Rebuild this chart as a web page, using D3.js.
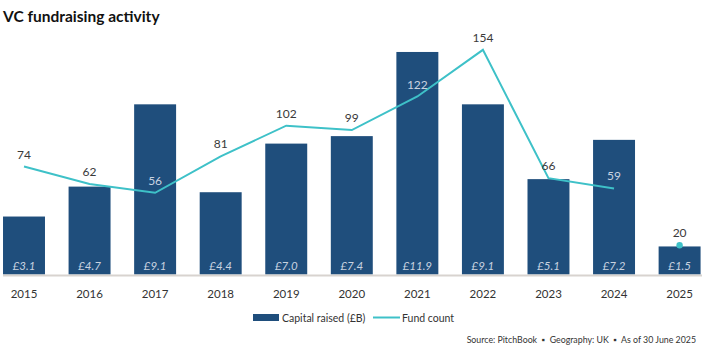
<!DOCTYPE html>
<html>
<head>
  <meta charset="utf-8">
  <title>VC fundraising activity</title>
  <style>
    body {
      margin: 0;
      background: #fff;
    }
    svg {
      font-family: Lato, "Open Sans", sans-serif;
    }
    .title {
      font-size: 15.5px;
      font-weight: 700;
      fill: #111;
    }
    .bar {
      fill: #1f4e7c;
    }
    .bar-label {
      font-size: 11.5px;
      font-style: italic;
      fill: #c9d3e0;
      text-anchor: middle;
    }
    .count-label {
      font-size: 12px;
      text-anchor: middle;
    }
    .year {
      font-size: 11.5px;
      fill: #333;
      text-anchor: middle;
    }
    .legend text {
      font-size: 10.5px;
      fill: #333;
    }
    .source {
      font-size: 8.8px;
      fill: #333;
      text-anchor: end;
      white-space: pre;
    }
  </style>
</head>
<body>
  <script src="https://d3js.org/d3.v7.min.js"></script>
  <script>
    const years = ["2015", "2016", "2017", "2018", "2019", "2020", "2021", "2022", "2023", "2024", "2025"];
    const capitalRaised = [3.1, 4.7, 9.1, 4.4, 7.0, 7.4, 11.9, 9.1, 5.1, 7.2, 1.5];
    const fundCount = [74, 62, 56, 81, 102, 99, 122, 154, 66, 59, 20];

    const width = 705;
    const height = 348;
    const baseline = 274.5;

    const svg = d3.select("body")
      .append("svg")
      .attr("width", width)
      .attr("height", height);

    svg.append("text")
      .attr("class", "title")
      .attr("x", 3)
      .attr("y", 22)
      .text("VC fundraising activity");

    const step = 65.56;
    const x = d3.scaleBand()
      .domain(years)
      .range([24 - step / 2, 24 - step / 2 + step * years.length])
      .paddingInner(0.36)
      .paddingOuter(0.18);

    // capital (£B) and fund count share the same baseline
    const yCap = d3.scaleLinear()
      .domain([0, 12])
      .range([baseline, baseline - 12 * 18.7]);

    const yCount = d3.scaleLinear()
      .domain([0, 160])
      .range([baseline, baseline - 160 * 1.459]);

    const cx = d => x(d) + x.bandwidth() / 2;

    svg.selectAll(".bar")
      .data(years)
      .enter()
      .append("rect")
      .attr("class", "bar")
      .attr("x", d => x(d))
      .attr("y", (d, i) => yCap(capitalRaised[i]))
      .attr("width", x.bandwidth())
      .attr("height", (d, i) => yCap(0) - yCap(capitalRaised[i]));

    svg.selectAll(".bar-label")
      .data(years)
      .enter()
      .append("text")
      .attr("class", "bar-label")
      .attr("x", cx)
      .attr("y", baseline - 5)
      .text((d, i) => "£" + capitalRaised[i].toFixed(1));

    // axis baseline
    svg.append("line")
      .attr("x1", 3)
      .attr("x2", 702)
      .attr("y1", baseline + 1)
      .attr("y2", baseline + 1)
      .attr("stroke", "#d8d3cf")
      .attr("stroke-width", 2);

    svg.selectAll(".year")
      .data(years)
      .enter()
      .append("text")
      .attr("class", "year")
      .attr("x", cx)
      .attr("y", 298)
      .text(d => d);

    // fund count line runs to 2024; 2025 is a part-year dot
    const lineYears = years.slice(0, 10);

    const line = d3.line()
      .x(d => cx(d))
      .y(d => yCount(fundCount[years.indexOf(d)]));

    svg.append("path")
      .datum(lineYears)
      .attr("fill", "none")
      .attr("stroke", "#3ec1c8")
      .attr("stroke-width", 2)
      .attr("d", line);

    svg.append("circle")
      .attr("cx", cx("2025"))
      .attr("cy", yCount(fundCount[10]))
      .attr("r", 3.2)
      .attr("fill", "#3ec1c8");

    svg.selectAll(".count-label")
      .data(years)
      .enter()
      .append("text")
      .attr("class", "count-label")
      .attr("x", cx)
      .attr("y", (d, i) => yCount(fundCount[i]) - 8)
      .attr("fill", (d, i) => {
        const labelY = yCount(fundCount[i]) - 13;
        return labelY > yCap(capitalRaised[i]) ? "#c9d3e0" : "#3a3a3a";
      })
      .text((d, i) => fundCount[i]);

    // legend
    const legend = svg.append("g").attr("class", "legend");
    legend.append("rect")
      .attr("x", 253)
      .attr("y", 314)
      .attr("width", 26)
      .attr("height", 7)
      .attr("fill", "#1f4e7c");
    legend.append("text")
      .attr("x", 282)
      .attr("y", 321.5)
      .text("Capital raised (£B)");
    legend.append("line")
      .attr("x1", 373)
      .attr("x2", 400)
      .attr("y1", 317.5)
      .attr("y2", 317.5)
      .attr("stroke", "#3ec1c8")
      .attr("stroke-width", 2);
    legend.append("text")
      .attr("x", 402)
      .attr("y", 321.5)
      .text("Fund count");

    svg.append("text")
      .attr("class", "source")
      .attr("x", 696)
      .attr("y", 343)
      .text("Source: PitchBook  ▪  Geography: UK  ▪  As of 30 June 2025");
  </script>
</body>
</html>
